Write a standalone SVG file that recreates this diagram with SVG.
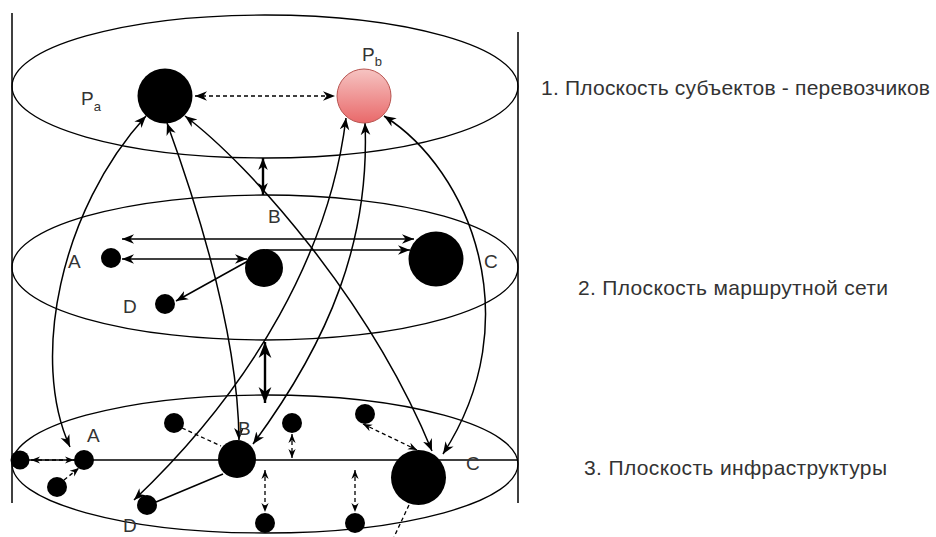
<svg xmlns="http://www.w3.org/2000/svg" width="936" height="537" viewBox="0 0 936 537">
  <style>
    .plane { fill: none; stroke: #000; stroke-width: 1.3; }
    .wall { fill: none; stroke: #000; stroke-width: 1.5; }
    .ln { fill: none; stroke: #000; stroke-width: 1.5; }
    .thick { fill: none; stroke: #000; stroke-width: 2.4; }
    .dash { stroke-dasharray: 4 3; stroke-width: 1.3; }
    .dot { fill: #000; }
    .lbl { font-family: "Liberation Sans", Arial, sans-serif; font-size: 19px; fill: #333; }
    .sub { font-size: 13px; }
    .title { font-family: "Liberation Sans", Arial, sans-serif; font-size: 21px; fill: #333; }
  </style>
  <defs>
    <marker id="arr" viewBox="0 0 10 10" refX="10" refY="5" markerWidth="12" markerHeight="12" markerUnits="userSpaceOnUse" orient="auto-start-reverse">
      <path d="M0,1 L10,5 L0,9 L3,5 z" fill="#000"/>
    </marker>
    <marker id="arrS" viewBox="0 0 10 10" refX="10" refY="5" markerWidth="9" markerHeight="9" markerUnits="userSpaceOnUse" orient="auto-start-reverse">
      <path d="M0,1 L10,5 L0,9 L3,5 z" fill="#000"/>
    </marker>
    <marker id="arrL" viewBox="0 0 10 10" refX="10" refY="5" markerWidth="16" markerHeight="16" markerUnits="userSpaceOnUse" orient="auto-start-reverse">
      <path d="M0,1 L10,5 L0,9 L3,5 z" fill="#000"/>
    </marker>
    <linearGradient id="pink" x1="0" y1="0" x2="0" y2="1">
      <stop offset="0" stop-color="#f6c4c2"/>
      <stop offset="1" stop-color="#e9696a"/>
    </linearGradient>
  </defs>

  <!-- cylinder walls and the three planes -->
  <g id="walls">
    <line class="wall" x1="12" y1="13" x2="12" y2="503"/>
    <line class="wall" x1="518" y1="32" x2="518" y2="503"/>
  </g>
  <g id="plane-1"><ellipse class="plane" cx="265" cy="86.5" rx="253" ry="71.5"/></g>
  <g id="plane-2"><ellipse class="plane" cx="265" cy="267.5" rx="253" ry="72.5"/></g>
  <g id="plane-3">
    <ellipse class="plane" cx="265" cy="464" rx="253" ry="69"/>
    <line class="ln" x1="12" y1="460" x2="518" y2="460"/>
  </g>

  <!-- connectors -->
  <g id="connectors">
    <!-- carriers plane -->
    <line class="ln dash" x1="195" y1="96" x2="335" y2="96" marker-start="url(#arr)" marker-end="url(#arr)"/>

    <!-- links between planes -->
    <path class="ln" d="M 146 116 C 60 210, 30 360, 70 447" marker-start="url(#arr)" marker-end="url(#arr)"/>
    <path class="ln" d="M 167 123 C 195 200, 238 330, 239 440" marker-start="url(#arr)" marker-end="url(#arr)"/>
    <path class="ln" d="M 185 116 C 250 165, 370 300, 432 451" marker-start="url(#arr)" marker-end="url(#arr)"/>
    <path class="ln" d="M 346 118 C 330 250, 255 385, 134 500" marker-start="url(#arr)" marker-end="url(#arr)"/>
    <path class="ln" d="M 365 123 C 370 240, 330 340, 253 444" marker-start="url(#arr)" marker-end="url(#arr)"/>
    <path class="ln" d="M 384 116 C 470 170, 530 320, 443 454" marker-start="url(#arr)" marker-end="url(#arr)"/>

    <line class="thick" x1="263" y1="158" x2="263" y2="195" marker-start="url(#arr)" marker-end="url(#arr)"/>
    <line class="thick" x1="265" y1="342" x2="265" y2="403" marker-start="url(#arrL)" marker-end="url(#arrL)"/>

    <!-- route network plane -->
    <line class="ln" x1="122" y1="239" x2="414" y2="239" marker-start="url(#arr)" marker-end="url(#arr)"/>
    <line class="ln" x1="122" y1="259" x2="247" y2="259" marker-start="url(#arr)" marker-end="url(#arr)"/>
    <line class="ln" x1="266" y1="250" x2="410" y2="250" marker-end="url(#arr)"/>
    <line class="ln" x1="248" y1="261" x2="176" y2="301" marker-end="url(#arr)"/>

    <!-- infrastructure plane -->
    <line class="ln dash" x1="31" y1="460" x2="74" y2="460" marker-start="url(#arrS)" marker-end="url(#arrS)"/>
    <line class="ln dash" x1="64" y1="480" x2="79" y2="468" marker-end="url(#arrS)"/>
    <line class="ln dash" x1="182" y1="428" x2="221" y2="446"/>
    <line class="ln dash" x1="292" y1="434" x2="292" y2="458" marker-start="url(#arrS)" marker-end="url(#arrS)"/>
    <line class="ln dash" x1="363" y1="424" x2="417" y2="450" marker-start="url(#arrS)" marker-end="url(#arrS)"/>
    <line class="ln dash" x1="265" y1="470" x2="265" y2="512" marker-start="url(#arrS)" marker-end="url(#arrS)"/>
    <line class="ln dash" x1="355" y1="470" x2="355" y2="512" marker-start="url(#arrS)" marker-end="url(#arrS)"/>
    <line class="ln dash" x1="409" y1="505" x2="394" y2="537"/>
    <line class="ln" x1="223" y1="474" x2="156" y2="502"/>
  </g>

  <!-- carriers -->
  <g id="node-pa">
    <circle class="dot" cx="165" cy="96" r="27.5"/>
    <text class="lbl" x="81" y="105" font-size="20">P<tspan class="sub" dy="6">a</tspan></text>
  </g>
  <g id="node-pb">
    <circle cx="364" cy="96" r="27" fill="url(#pink)" stroke="#b85450" stroke-width="1"/>
    <text class="lbl" x="362" y="61" font-size="20">P<tspan class="sub" dy="5">b</tspan></text>
  </g>

  <!-- route network -->
  <g id="route-a"><circle class="dot" cx="111" cy="258" r="10"/><text class="lbl" x="68" y="268">A</text></g>
  <g id="route-b"><circle class="dot" cx="264" cy="268" r="19"/><text class="lbl" x="268" y="223">B</text></g>
  <g id="route-c"><circle class="dot" cx="436" cy="259" r="27.5"/><text class="lbl" x="484" y="268">C</text></g>
  <g id="route-d"><circle class="dot" cx="165" cy="304" r="10"/><text class="lbl" x="123" y="313">D</text></g>

  <!-- infrastructure -->
  <g id="infra-a"><circle class="dot" cx="84" cy="460" r="10"/><text class="lbl" x="87" y="442">A</text></g>
  <g id="infra-b"><circle class="dot" cx="237" cy="459" r="19"/><text class="lbl" x="238" y="435">B</text></g>
  <g id="infra-c"><circle class="dot" cx="418.5" cy="477.5" r="27.5"/><text class="lbl" x="466" y="470">C</text></g>
  <g id="infra-d"><circle class="dot" cx="147" cy="505" r="10"/><text class="lbl" x="123" y="532">D</text></g>
  <g id="infra-1"><circle class="dot" cx="20" cy="460" r="9.5"/></g>
  <g id="infra-2"><circle class="dot" cx="57" cy="487" r="10"/></g>
  <g id="infra-3"><circle class="dot" cx="174" cy="423" r="10"/></g>
  <g id="infra-4"><circle class="dot" cx="292" cy="423" r="10"/></g>
  <g id="infra-5"><circle class="dot" cx="365" cy="414" r="10"/></g>
  <g id="infra-6"><circle class="dot" cx="265" cy="523" r="10"/></g>
  <g id="infra-7"><circle class="dot" cx="355" cy="523" r="10"/></g>

  <!-- plane captions -->
  <g id="captions">
    <text class="title" x="541" y="95" textLength="389">1. Плоскость субъектов - перевозчиков</text>
    <text class="title" x="578" y="295" textLength="310">2. Плоскость маршрутной сети</text>
    <text class="title" x="584" y="475" textLength="303">3. Плоскость инфраструктуры</text>
  </g>
</svg>
